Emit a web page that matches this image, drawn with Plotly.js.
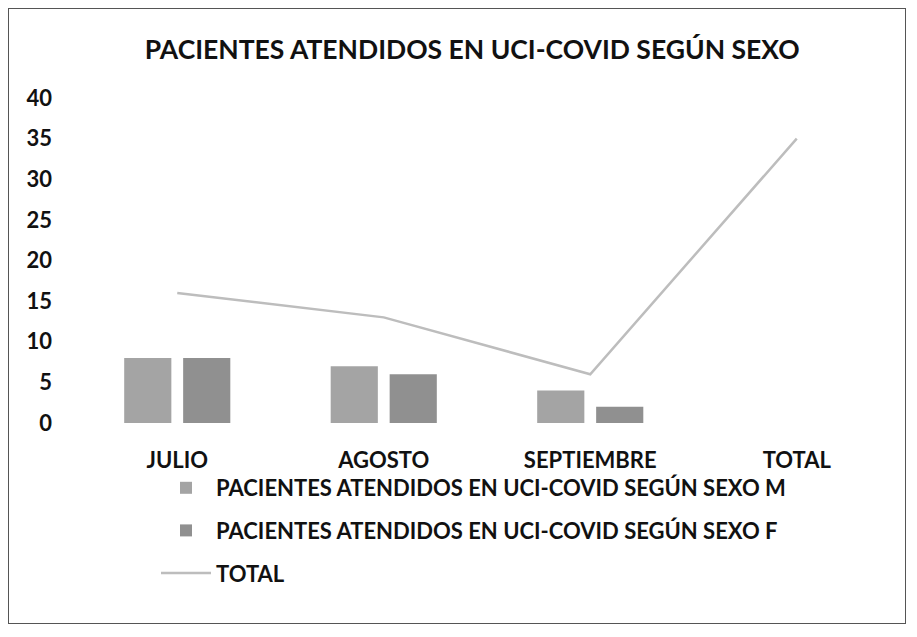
<!DOCTYPE html>
<html>
<head>
<meta charset="utf-8">
<script src="https://cdn.plot.ly/plotly-3.0.1.min.js"></script>
<style>
  html, body { margin: 0; padding: 0; background: #fff; }
  #wrap { position: relative; width: 917px; height: 637px; }
  #chart { position: absolute; left: 0; top: 0; width: 917px; height: 637px; }
  #frame { position: absolute; left: 8px; top: 8px; width: 898px; height: 616px;
           border: 1.5px solid #555; pointer-events: none; box-sizing: border-box; }
</style>
</head>
<body>
<div id="wrap">
  <div id="chart"></div>
  <div id="frame"></div>
</div>
<script>
const categories = ["JULIO", "AGOSTO", "SEPTIEMBRE", "TOTAL"];
const barCategories = ["JULIO", "AGOSTO", "SEPTIEMBRE"];
const valuesM = [8, 7, 4];
const valuesF = [8, 6, 2];
const valuesTotal = [16, 13, 6, 35];
const nameM = "PACIENTES ATENDIDOS EN UCI-COVID SEGÚN SEXO M";
const nameF = "PACIENTES ATENDIDOS EN UCI-COVID SEGÚN SEXO F";
const nameTotal = "TOTAL";
const titleText = "PACIENTES ATENDIDOS EN UCI-COVID SEGÚN SEXO";
const yTicks = [0, 5, 10, 15, 20, 25, 30, 35, 40];

const FONT = "Lato, 'Open Sans', sans-serif";

const traces = [
  { type: "bar", name: nameM, x: barCategories, y: valuesM,
    marker: { color: "#a4a4a4" }, legendgroup: "m" },
  { type: "bar", name: nameF, x: barCategories, y: valuesF,
    marker: { color: "#909090" }, legendgroup: "f" },
  { type: "scatter", mode: "lines", name: nameTotal, x: categories, y: valuesTotal,
    line: { color: "#bdbdbd", width: 2.5 }, legendgroup: "t" }
];

const layout = {
  width: 917, height: 637,
  margin: { l: 74, r: 17, t: 98, b: 214 },
  paper_bgcolor: "#fff", plot_bgcolor: "#fff",
  font: { family: FONT, color: "#111", size: 22, weight: "bold" },
  title: { text: "<b>" + titleText + "</b>", x: 0.515, xref: "container",
           y: 1 - 50/637, yref: "container", yanchor: "middle", xanchor: "center",
           font: { family: FONT, size: 26.5, color: "#111" } },
  barmode: "group", bargap: 0.429, bargroupgap: 0.2,
  xaxis: { type: "category", categoryorder: "array", categoryarray: categories,
           range: [-0.5, 3.5], showgrid: false, zeroline: false, showline: false,
           ticks: "", ticklabelstandoff: 22,
           tickfont: { family: FONT, size: 22, weight: "bold", color: "#111" } },
  yaxis: { range: [0, 40], tickvals: yTicks, showgrid: false, zeroline: false,
           showline: false, ticks: "", ticklabelstandoff: 21,
           tickfont: { family: FONT, size: 22, weight: "bold", color: "#111" } },
  showlegend: true,
  legend: { orientation: "v", x: (156 - 74) / 826, xanchor: "left", xref: "paper",
            y: (637 - 467) / 637, yref: "container", yanchor: "top",
            traceorder: "grouped", tracegroupgap: 11, itemwidth: 50,
            font: { family: FONT, size: 22, weight: "bold", color: "#111" },
            bgcolor: "rgba(0,0,0,0)" }
};

Plotly.newPlot("chart", traces, layout, { staticPlot: true, displayModeBar: false });
</script>
</body>
</html>
